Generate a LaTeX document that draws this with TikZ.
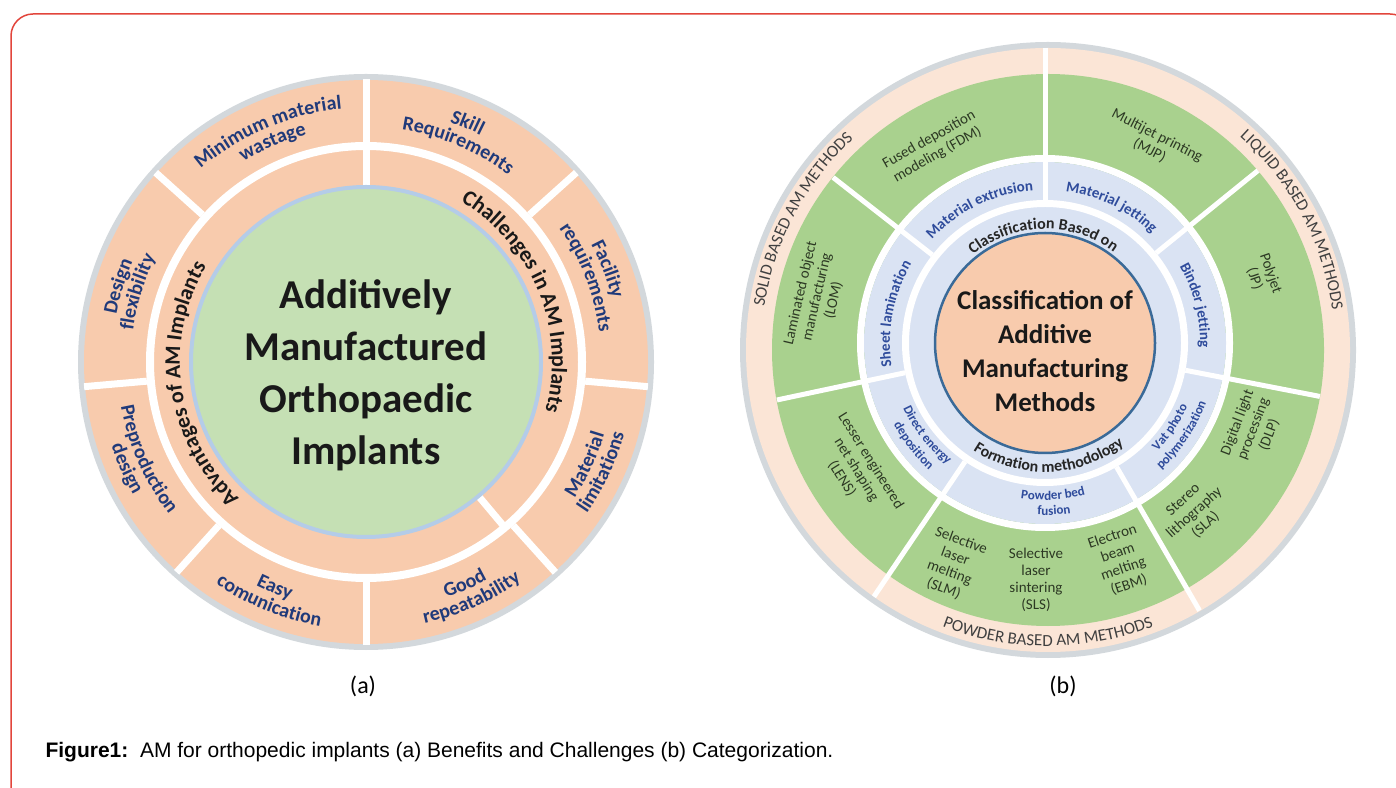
\documentclass[tikz,border=0pt]{standalone}
\usepackage{fontspec}
\setmainfont{Carlito}
\newfontfamily\capfont{Liberation Sans}
\usetikzlibrary{decorations.text}

\definecolor{peach}{HTML}{F8CBAD}
\definecolor{palepeach}{HTML}{FBE5D6}
\definecolor{ringgray}{HTML}{D3D8DC}
\definecolor{mint}{HTML}{C5E0B4}
\definecolor{leaf}{HTML}{A9D18E}
\definecolor{iceblue}{HTML}{DAE3F3}
\definecolor{skyline}{HTML}{B4CCE8}
\definecolor{navyink}{HTML}{203A7A}
\definecolor{blueink}{HTML}{2F4C9C}
\definecolor{oliveink}{HTML}{2C3823}
\definecolor{rimblue}{HTML}{3A6A98}
\definecolor{framered}{HTML}{E2453C}

\newcommand*{\fs}[2]{\fontsize{#1}{#2}\selectfont}
\newcommand*{\lblfont}{\color{navyink}\bfseries\fs{20}{20}}
\newcommand*{\bandfont}{\color{blueink}\bfseries\fs{15}{15}}
\newcommand*{\smallband}{\color{blueink}\bfseries\fs{13}{13}}
\newcommand*{\innerfont}{\color{black!85}\bfseries\fs{16}{16}}
\newcommand*{\palefont}{\color{black!75}\fs{17}{17}}
% text on an arc: angle of its middle, baseline radius, font, text
\newcommand*{\cwtext}[4]{\path[decorate,decoration={text along path,text align=center,text={|#3|#4}}]
  (#1+60:#2pt) arc[start angle=#1+60,end angle=#1-60,radius=#2pt];}
\newcommand*{\ccwtext}[4]{\path[decorate,decoration={text along path,text align=center,text={|#3|#4}}]
  (#1-60:#2pt) arc[start angle=#1-60,end angle=#1+60,radius=#2pt];}

\begin{document}
\begin{tikzpicture}[x=1pt,y=1pt,
    divider/.style={draw=white,line width=7pt},
    thindiv/.style={draw=white,line width=5pt},
    greenlbl/.style={text=oliveink,font=\fs{15}{17},align=center,inner sep=0pt}]
  \useasboundingbox (0,0) rectangle (1396,787);
  \begin{scope}
    \clip (0,0) rectangle (1396,787);
    \draw[framered,line width=1.5pt,rounded corners=22pt] (11,773) rectangle (1412,-40);
  \end{scope}

  % (a) benefits and challenges
  \begin{scope}[shift={(366,425)}]
    \fill[ringgray] (0,0) circle[radius=288pt];
    \fill[peach] (0,0) circle[radius=282pt];
    \draw[white,line width=8pt] (0,0) circle[radius=216pt];
    \foreach \a in {90,42,-5,-48,-90,-132,185,138}
      \draw[divider] (\a:220pt) -- (\a:283pt);
    \foreach \a in {90,-50}
      \draw[divider] (\a:175pt) -- (\a:213pt);
    \fill[mint] (0,0) circle[radius=175pt];
    \draw[skyline,line width=4pt] (0,0) circle[radius=175pt];
    \node[font=\bfseries\fs{41}{52},align=center,text=black!90] (hub) at (0,-13)
      {Additively\\Manufactured\\Orthopaedic\\Implants};
    \cwtext{22}{186}{\color{black!90}\bfseries\fs{22}{22}}{Challenges in AM Implants}
    \cwtext{188}{186}{\color{black!90}\bfseries\fs{22}{22}}{Advantages of AM Implants}
    \cwtext{113}{254}{\lblfont}{Minimum material}
    \cwtext{113}{235}{\lblfont}{wastage}
    \cwtext{67}{254}{\lblfont}{Skill}
    \cwtext{67}{235}{\lblfont}{Requirements}
    \cwtext{21}{254}{\lblfont}{Facility}
    \cwtext{21}{235}{\lblfont}{requirements}
    \ccwtext{-25}{249}{\lblfont}{Material}
    \ccwtext{-25}{268}{\lblfont}{limitations}
    \ccwtext{-66}{249}{\lblfont}{Good}
    \ccwtext{-66}{268}{\lblfont}{repeatability}
    \ccwtext{248}{249}{\lblfont}{Easy}
    \ccwtext{248}{268}{\lblfont}{comunication}
    \ccwtext{204}{249}{\lblfont}{Preproduction}
    \ccwtext{204}{268}{\lblfont}{design}
    \cwtext{163}{254}{\lblfont}{Design}
    \cwtext{163}{235}{\lblfont}{flexibility}
  \end{scope}
  \node[font=\fs{24}{24}] (taga) at (363,101) {(a)};

  % (b) categorization, outer rings
  \begin{scope}[shift={(1048,437)}]
    \fill[ringgray] (0,0) circle[radius=308pt];
    \fill[palepeach] (0,0) circle[radius=302pt];
    \fill[leaf] (0,0) circle[radius=276pt];
    \cwtext{152}{287}{\palefont}{SOLID BASED AM METHODS}
    \cwtext{28}{287}{\palefont}{LIQUID BASED AM METHODS}
    \ccwtext{270}{296}{\palefont}{POWDER BASED AM METHODS}
    \node[greenlbl,rotate=29.5] (fdm) at (119.5:233pt) {Fused deposition\\modeling (FDM)};
    \node[greenlbl,rotate=-27] (mjp) at (63:232pt) {Multijet printing\\(MJP)};
    \node[greenlbl,rotate=77] (lom) at (167:237pt) {Laminated object\\manufacturing\\(LOM)};
    \node[greenlbl,rotate=-71] (pj) at (19:227pt) {Polyjet\\(JP)};
    \node[greenlbl,rotate=-58] (lens) at (212:226pt) {Lesser engineered\\net shaping\\(LENS)};
    \node[greenlbl,rotate=-20] (slm) at (246:235pt) {Selective\\laser\\melting\\(SLM)};
    \node[greenlbl] (sls) at (267:230pt) {Selective\\laser\\sintering\\(SLS)};
    \node[greenlbl,rotate=19] (ebm) at (289:223pt) {Electron\\beam\\melting\\(EBM)};
    \node[greenlbl,rotate=42] (sla) at (312:219pt) {Stereo\\lithography\\(SLA)};
    \node[greenlbl,rotate=69] (dlp) at (339:220pt) {Digital light\\processing\\(DLP)};
  \end{scope}

  % (b) inner rings
  \begin{scope}[shift={(1045,444)}]
    \draw[white,line width=7pt] (0,0) circle[radius=184.5pt];
    \fill[iceblue] (0,0) circle[radius=181pt];
    \draw[white,line width=7pt] (0,0) circle[radius=139.5pt];
    \foreach \a/\e in {90/295,142/269,192/274,236/306,300/309,349/280,39/274}
      \draw[thindiv] (\a:143pt) -- (\a:\e pt);
    \fill[peach] (0,0) circle[radius=110pt];
    \draw[rimblue,line width=2.5pt] (0,0) circle[radius=110pt];
    \node[font=\bfseries\fs{27}{34},align=center,text=black!90] (core) at (0,-8)
      {Classification of\\Additive\\Manufacturing\\Methods};
    \cwtext{91}{114}{\innerfont}{Classification Based on}
    \ccwtext{272}{129}{\innerfont}{Formation methodology}
    \cwtext{116}{153}{\bandfont}{Material extrusion}
    \cwtext{64}{153}{\bandfont}{Material jetting}
    \cwtext{14}{155}{\bandfont}{Binder jetting}
    \cwtext{169}{155}{\bandfont}{Sheet lamination}
    \ccwtext{218}{156}{\smallband}{Direct energy}
    \ccwtext{218}{172}{\smallband}{deposition}
    \ccwtext{273}{157}{\smallband}{Powder bed}
    \ccwtext{273}{172}{\smallband}{fusion}
    \ccwtext{326}{156}{\smallband}{Vat photo}
    \ccwtext{326}{172}{\smallband}{polymerization}
  \end{scope}
  \node[font=\fs{24}{24}] (tagb) at (1063,101) {(b)};

  \node[anchor=base west,font=\capfont\fs{21}{21}] (caption) at (42,30)
    {\textbf{Figure1:}\ \ AM for orthopedic implants (a) Benefits and Challenges (b) Categorization.};
\end{tikzpicture}
\end{document}
